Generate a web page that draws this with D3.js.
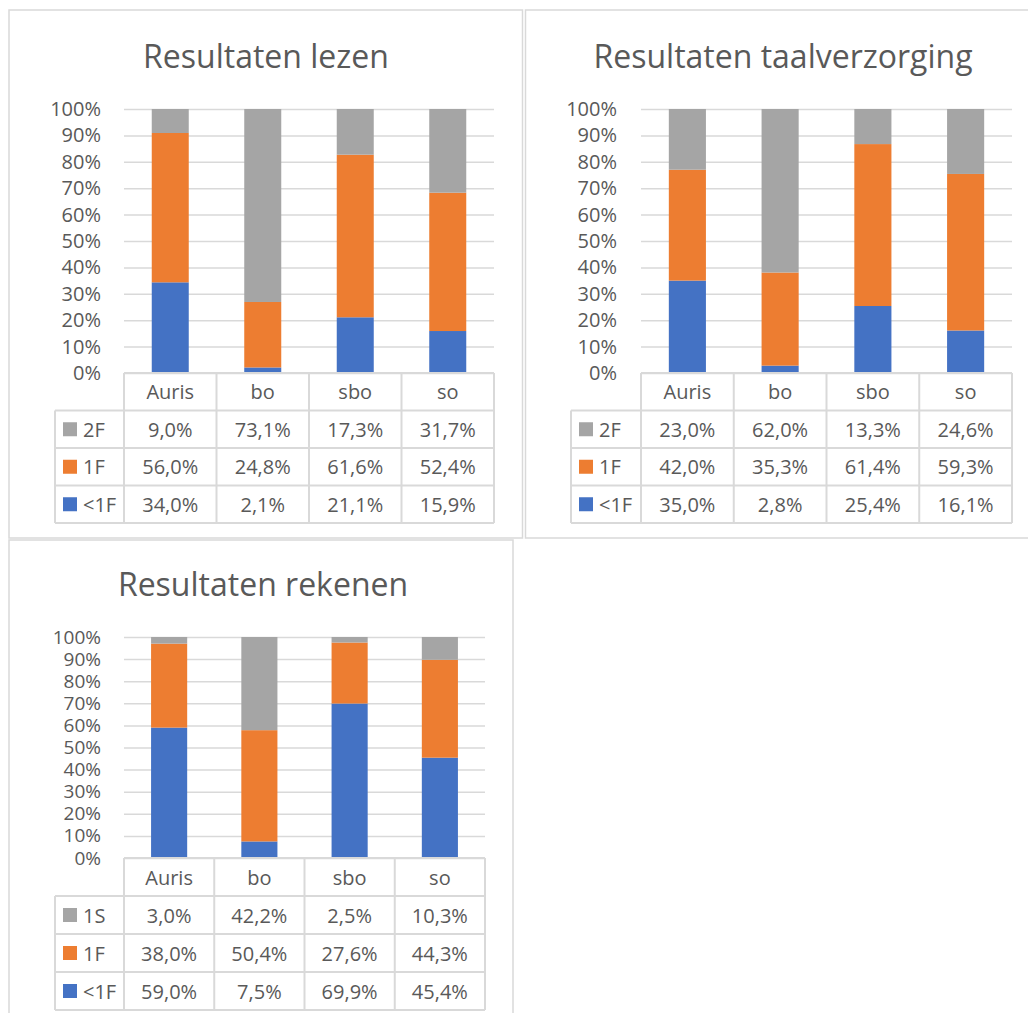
<!DOCTYPE html>
<html>
<head>
<meta charset="utf-8">
<script src="https://cdn.jsdelivr.net/npm/d3@7"></script>
<style>
  body { margin: 0; background: #fff; }
  text { font-family: "Open Sans", sans-serif; fill: #595959; }
</style>
</head>
<body>
<svg id="svg" width="1028" height="1013"></svg>
<script>
// data
const categories = ["Auris", "bo", "sbo", "so"];

const lezenSeries = ["<1F", "1F", "2F"];
const lezenBelow1F = [34.0, 2.1, 21.1, 15.9];
const lezen1F = [56.0, 24.8, 61.6, 52.4];
const lezen2F = [9.0, 73.1, 17.3, 31.7];

const taalSeries = ["<1F", "1F", "2F"];
const taalBelow1F = [35.0, 2.8, 25.4, 16.1];
const taal1F = [42.0, 35.3, 61.4, 59.3];
const taal2F = [23.0, 62.0, 13.3, 24.6];

const rekenenSeries = ["<1F", "1F", "1S"];
const rekenenBelow1F = [59.0, 7.5, 69.9, 45.4];
const rekenen1F = [38.0, 50.4, 27.6, 44.3];
const rekenen1S = [3.0, 42.2, 2.5, 10.3];

const yTicks = [0, 0.1, 0.2, 0.3, 0.4, 0.5, 0.6, 0.7, 0.8, 0.9, 1];
const colors = ["#4472C4", "#ED7D31", "#A5A5A5"];
const lineColor = "#d9d9d9";

const svg = d3.select("#svg");

function fmt(v) {
  return v.toFixed(1).replace(".", ",") + "%";
}

function drawChart(title, seriesNames, seriesValues, layout) {
  const g = svg.append("g");

  // chart frame
  g.append("rect")
      .attr("x", layout.frame[0])
      .attr("y", layout.frame[1])
      .attr("width", layout.frame[2])
      .attr("height", layout.frame[3])
      .attr("fill", "none")
      .attr("stroke", lineColor)
      .attr("stroke-width", 1.5);

  // title
  g.append("text")
      .attr("x", layout.titleX)
      .attr("y", layout.titleY)
      .attr("text-anchor", "middle")
      .attr("dominant-baseline", "central")
      .style("font-size", "32px")
      .text(title);

  const x = d3.scaleBand()
      .domain(categories)
      .range([layout.left, layout.right])
      .paddingInner(0.6)
      .paddingOuter(0.3);

  const y = d3.scaleLinear()
      .domain([0, 1])
      .range([layout.bottom, layout.top]);

  // y axis + gridlines
  const axis = g.append("g")
      .attr("transform", "translate(" + layout.left + ",0)")
      .call(d3.axisLeft(y)
          .tickValues(yTicks)
          .tickFormat(d3.format(".0%"))
          .tickSize(-(layout.right - layout.left))
          .tickPadding(layout.labelGap));
  axis.select(".domain").remove();
  axis.selectAll("line")
      .attr("stroke", lineColor)
      .attr("stroke-width", 1.5);
  axis.selectAll("text")
      .attr("fill", "#595959")
      .style("font-family", "'Open Sans', sans-serif")
      .style("font-size", layout.tickFont);

  // stacked bars (100%)
  const rows = categories.map(function(c, i) {
    const row = {cat: c};
    seriesNames.forEach(function(s, j) { row[s] = seriesValues[j][i]; });
    return row;
  });
  const stacked = d3.stack()
      .keys(seriesNames)
      .offset(d3.stackOffsetExpand)(rows);

  g.selectAll("g.series")
      .data(stacked)
      .enter()
      .append("g")
      .attr("fill", function(d, i) { return colors[i]; })
      .selectAll("rect")
      .data(function(d) { return d; })
      .enter()
      .append("rect")
      .attr("x", function(d) { return x(d.data.cat); })
      .attr("y", function(d) { return y(d[1]); })
      .attr("width", x.bandwidth())
      .attr("height", function(d) { return y(d[0]) - y(d[1]); });

  // data table
  const step = x.step();
  const rowH = (layout.tableBottom - layout.bottom) / 4;
  const t = g.append("g")
      .attr("stroke", lineColor)
      .attr("stroke-width", 2);

  t.append("line")
      .attr("x1", layout.left).attr("x2", layout.right)
      .attr("y1", layout.bottom).attr("y2", layout.bottom);
  for (let k = 1; k <= 4; k++) {
    t.append("line")
        .attr("x1", layout.tableLeft).attr("x2", layout.right)
        .attr("y1", layout.bottom + k * rowH).attr("y2", layout.bottom + k * rowH);
  }
  t.append("line")
      .attr("x1", layout.tableLeft).attr("x2", layout.tableLeft)
      .attr("y1", layout.bottom + rowH).attr("y2", layout.tableBottom);
  for (let i = 0; i <= categories.length; i++) {
    const cx = layout.left + i * step;
    t.append("line")
        .attr("x1", cx).attr("x2", cx)
        .attr("y1", layout.bottom).attr("y2", layout.tableBottom);
  }

  // header row with categories
  g.selectAll("text.cat")
      .data(categories)
      .enter()
      .append("text")
      .attr("x", function(d) { return x(d) + x.bandwidth() / 2; })
      .attr("y", layout.bottom + rowH / 2)
      .attr("text-anchor", "middle")
      .attr("dominant-baseline", "central")
      .style("font-size", "20px")
      .text(function(d) { return d; });

  // table rows, top row is the last series
  const order = seriesNames.map(function(s, j) { return j; }).reverse();
  order.forEach(function(j, r) {
    const cy = layout.bottom + (r + 1.5) * rowH;
    g.append("rect")
        .attr("x", layout.tableLeft + 8)
        .attr("y", cy - 7)
        .attr("width", 14)
        .attr("height", 14)
        .attr("fill", colors[j]);
    g.append("text")
        .attr("x", layout.tableLeft + 28)
        .attr("y", cy)
        .attr("dominant-baseline", "central")
        .style("font-size", "20px")
        .text(seriesNames[j]);
    g.selectAll(null)
        .data(seriesValues[j])
        .enter()
        .append("text")
        .attr("x", function(d, i) { return x(categories[i]) + x.bandwidth() / 2; })
        .attr("y", cy)
        .attr("text-anchor", "middle")
        .attr("dominant-baseline", "central")
        .style("font-size", "20px")
        .text(function(d) { return fmt(d); });
  });
}

drawChart("Resultaten lezen", lezenSeries, [lezenBelow1F, lezen1F, lezen2F], {
  frame: [9, 10, 513.5, 528], titleX: 266, titleY: 55,
  left: 124, right: 494, top: 109, bottom: 373, tableBottom: 523,
  tableLeft: 55, labelGap: 23, tickFont: "20px"
});

drawChart("Resultaten taalverzorging", taalSeries, [taalBelow1F, taal1F, taal2F], {
  frame: [525.5, 10, 510, 528], titleX: 783, titleY: 55,
  left: 641, right: 1012, top: 109, bottom: 373, tableBottom: 523,
  tableLeft: 571, labelGap: 24, tickFont: "20px"
});

drawChart("Resultaten rekenen", rekenenSeries, [rekenenBelow1F, rekenen1F, rekenen1S], {
  frame: [9, 540, 504, 490], titleX: 263, titleY: 583,
  left: 124, right: 485, top: 637, bottom: 858, tableBottom: 1010,
  tableLeft: 55, labelGap: 23, tickFont: "19px"
});
</script>
</body>
</html>
